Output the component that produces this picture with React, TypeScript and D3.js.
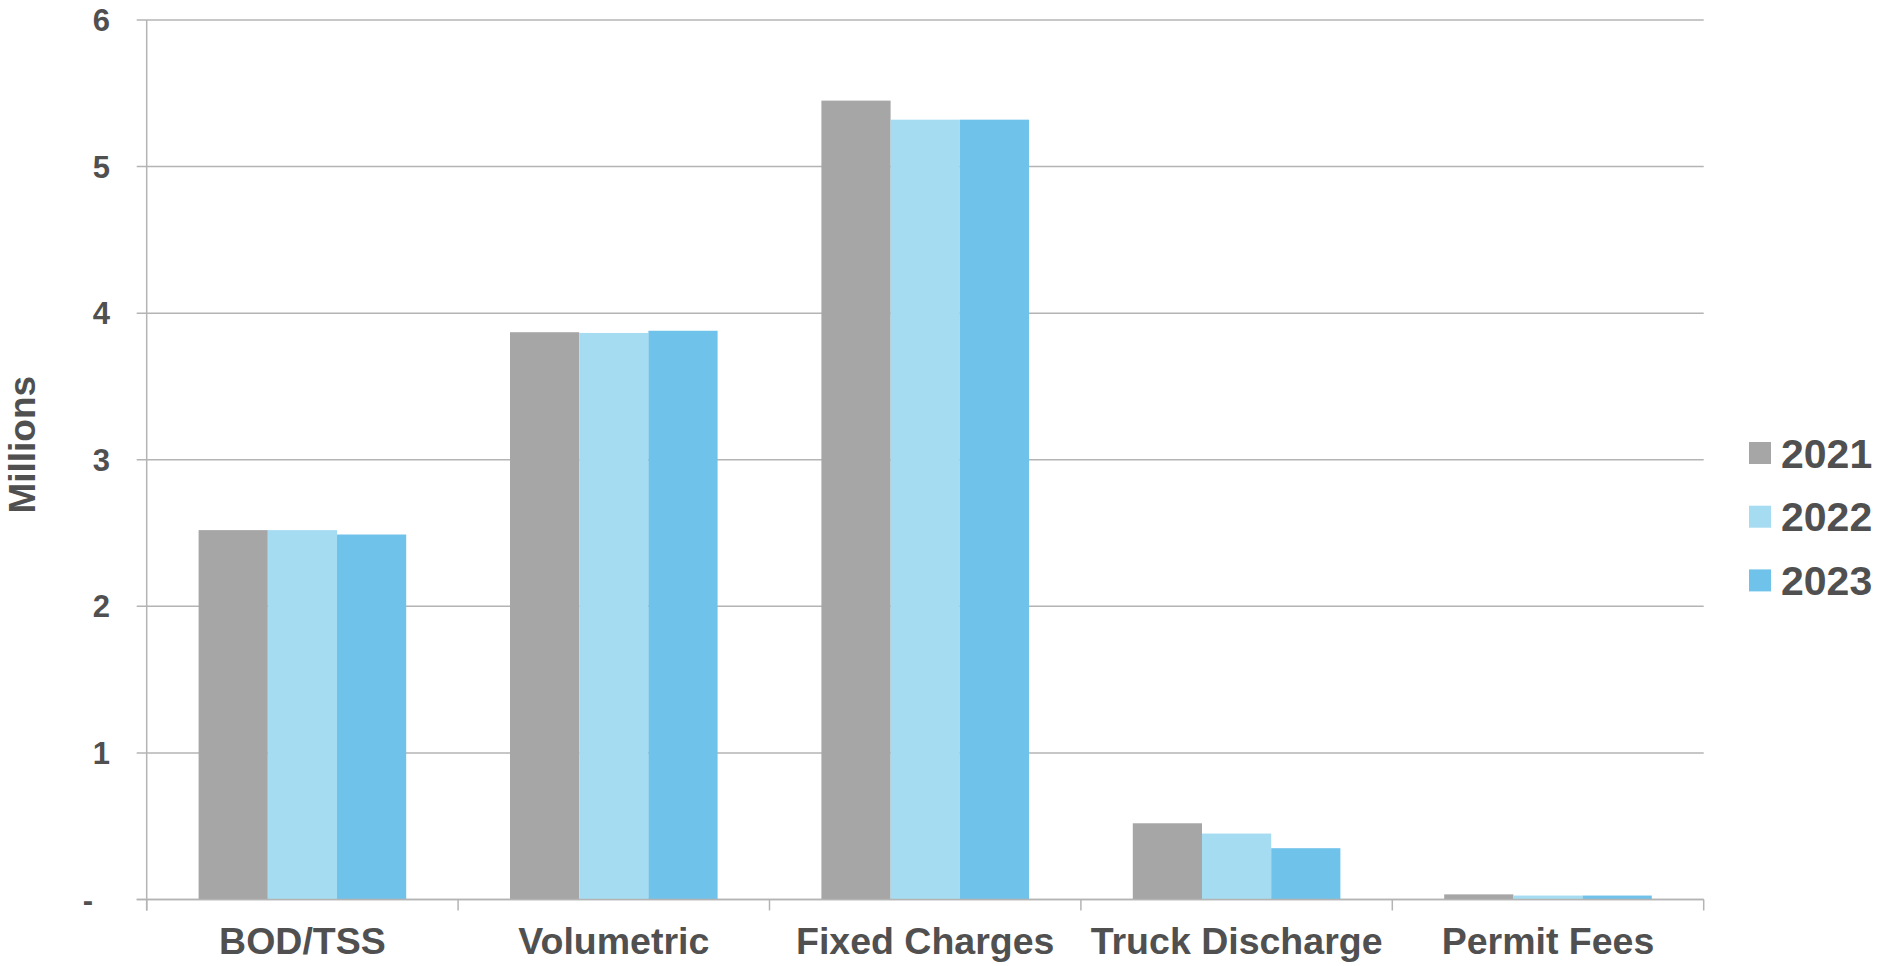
import React from "react";
import * as d3 from "d3";

const categories = ["BOD/TSS", "Volumetric", "Fixed Charges", "Truck Discharge", "Permit Fees"];
const seriesNames = ["2021", "2022", "2023"];
const values2021 = [2.52, 3.87, 5.45, 0.52, 0.035];
const values2022 = [2.52, 3.865, 5.32, 0.45, 0.027];
const values2023 = [2.49, 3.88, 5.32, 0.35, 0.027];
const seriesColors = ["#A6A6A6", "#A6DCF2", "#6FC2EA"];
const yTicks = [0, 1, 2, 3, 4, 5, 6];
const yTitle = "Millions";

const W = 1883;
const H = 966;
const left = 146.7;
const right = 1703.7;
const top = 20;
const bottom = 899.5;
const textColor = "#505050";
const gridColor = "#B4B4B4";
const font = "Liberation Sans, Arial, sans-serif";

export default function App() {
  const seriesValues = [values2021, values2022, values2023];
  const x = d3.scaleBand<string>().domain(categories).range([left, right]).paddingInner(0).paddingOuter(0);
  const xs = d3.scaleBand<string>().domain(seriesNames).range([0, x.bandwidth()]).paddingInner(0).paddingOuter(0.75);
  const y = d3.scaleLinear().domain([0, 6]).range([bottom, top]);
  const fmt = (v: number) => (v === 0 ? "-" : d3.format("d")(v));
  const boundaries = categories.map((c) => x(c) as number).concat([right]);

  return (
    <svg width={W} height={H} style={{ position: "absolute", left: 0, top: 0, display: "block", background: "#fff" }}>
      {/* gridlines */}
      {yTicks.map((t) => (
        <line key={"g" + t} x1={left - 10} x2={right} y1={y(t)} y2={y(t)} stroke={gridColor} strokeWidth={1.5} />
      ))}
      {/* bars */}
      {categories.map((c, ci) =>
        seriesNames.map((s, si) => {
          const v = seriesValues[si][ci];
          const bx = (x(c) as number) + (xs(s) as number);
          return (
            <rect
              key={c + s}
              x={bx}
              y={y(v)}
              width={xs.bandwidth()}
              height={y(0) - y(v)}
              fill={seriesColors[si]}
            />
          );
        })
      )}
      {/* baseline */}
      <line x1={left - 10} x2={right} y1={y(0)} y2={y(0)} stroke={gridColor} strokeWidth={1.5} />
      {/* y axis line */}
      <line x1={left} x2={left} y1={top} y2={bottom + 11} stroke={gridColor} strokeWidth={1.5} />
      {/* x ticks */}
      {boundaries.map((bx, i) => (
        <line key={"xt" + i} x1={bx} x2={bx} y1={bottom} y2={bottom + 11} stroke={gridColor} strokeWidth={1.5} />
      ))}
      {/* y tick labels */}
      {yTicks.map((t) => (
        <text
          key={"yl" + t}
          x={t === 0 ? 93 : 110}
          y={y(t)}
          dy="0.36em"
          textAnchor="end"
          fontFamily={font}
          fontWeight="bold"
          fontSize={31}
          fill={textColor}
        >
          {fmt(t)}
        </text>
      ))}
      {/* category labels */}
      {categories.map((c) => (
        <text
          key={"cl" + c}
          x={(x(c) as number) + x.bandwidth() / 2}
          y={954}
          textAnchor="middle"
          fontFamily={font}
          fontWeight="bold"
          fontSize={37.5}
          fill={textColor}
        >
          {c}
        </text>
      ))}
      {/* y title */}
      <text
        transform={`translate(35, ${(top + bottom) / 2 - 15}) rotate(-90)`}
        textAnchor="middle"
        fontFamily={font}
        fontWeight="bold"
        fontSize={37}
        fill={textColor}
      >
        {yTitle}
      </text>
      {/* legend */}
      {seriesNames.map((s, i) => {
        const cy = 453 + i * 63.7;
        return (
          <g key={"lg" + s}>
            <rect x={1749} y={cy - 11} width={22} height={22} fill={seriesColors[i]} />
            <text
              x={1781}
              y={cy}
              dy="0.36em"
              fontFamily={font}
              fontWeight="bold"
              fontSize={41}
              fill={textColor}
            >
              {s}
            </text>
          </g>
        );
      })}
    </svg>
  );
}
